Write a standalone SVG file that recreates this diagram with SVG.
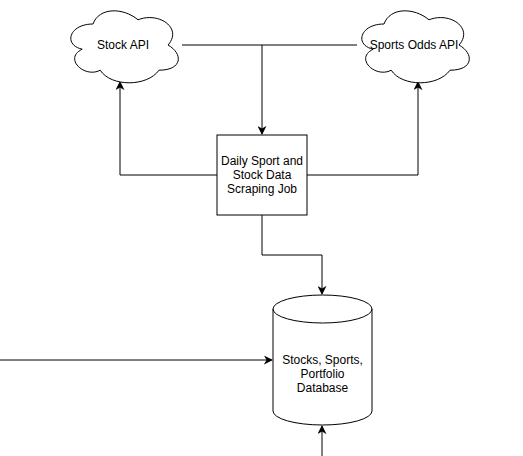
<svg xmlns="http://www.w3.org/2000/svg" width="523" height="456" viewBox="0 0 523 456">
<defs>
<style>
.shape{fill:#fff;stroke:#000;stroke-width:1}
.edge{fill:none;stroke:#000;stroke-width:1}
text{font-family:"Liberation Sans",Arial,Helvetica,sans-serif;font-size:12px;fill:#000;text-anchor:middle}
</style>
<marker id="arr" viewBox="0 0 10 10" refX="9" refY="5" markerWidth="9" markerHeight="9" markerUnits="userSpaceOnUse" orient="auto">
<path d="M0,0 L10,5 L0,10 L3,5 Z" fill="#000"/>
</marker>
<path id="cloud" d="M30,21 C6,21 0,42 19.2,46.2 C0,55.4 21.6,75.6 37.2,67.2 C48,84 84,84 96,67.2 C120,67.2 120,50.4 105,42 C120,25.2 96,8.4 75,16.8 C60,4.2 36,4.2 30,21 Z"/>
</defs>
<g id="connectors">
<path class="edge" d="M182,45 L262,45 L262,134" marker-end="url(#arr)"/>
<path class="edge" d="M357,45 L262,45"/>
<path class="edge" d="M217,175 L120,175 L120,82" marker-end="url(#arr)"/>
<path class="edge" d="M307,175 L418,175 L418,82" marker-end="url(#arr)"/>
<path class="edge" d="M262,215 L262,255 L322,255 L322,294" marker-end="url(#arr)"/>
<path class="edge" d="M0,360 L272,360" marker-end="url(#arr)"/>
<path class="edge" d="M322,456 L322,426" marker-end="url(#arr)"/>
</g>
<g id="stock-api">
<use href="#cloud" class="shape" transform="translate(63,3)"/>
<text x="123" y="49">Stock API</text>
</g>
<g id="sports-odds-api">
<use href="#cloud" class="shape" transform="translate(354,3)"/>
<text x="414" y="49">Sports Odds API</text>
</g>
<g id="scraping-job">
<rect class="shape" x="217" y="135" width="90" height="80"/>
<text x="262" y="165">Daily Sport and</text>
<text x="262" y="179">Stock Data</text>
<text x="262" y="193">Scraping Job</text>
</g>
<g id="database">
<path class="shape" d="M273,309 A49.5,14 0 0 1 372,309 L372,411 A49.5,14 0 0 1 273,411 Z"/>
<path class="edge" d="M273,309 A49.5,14 0 0 0 372,309"/>
<text x="322.5" y="364">Stocks, Sports,</text>
<text x="322.5" y="378">Portfolio</text>
<text x="322.5" y="392">Database</text>
</g>
</svg>
